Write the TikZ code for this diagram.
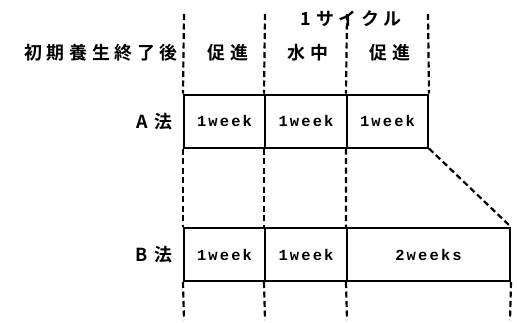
\documentclass[tikz,border=0pt]{standalone}
\usepackage{fontspec}
\newfontfamily\jp[LetterSpace=26,BoldFont={Noto Sans CJK JP Bold}]{Noto Sans CJK JP}
\newfontfamily\wk[LetterSpace=14]{Liberation Mono}
\begin{document}
\begin{tikzpicture}[x=1bp,y=-1bp,
  cell/.style={draw,line width=2bp,minimum height=53bp,inner sep=0pt,font=\wk\bfseries\fontsize{15.5}{15.5}\selectfont},
  dsh/.style={line width=2.2bp,dash pattern=on 6bp off 3.5bp},
  lab/.style={inner sep=0pt,font=\jp\bfseries\fontsize{18}{18}\selectfont}]
\useasboundingbox (0,0) rectangle (517,322);
% A row
\node[cell,minimum width=81bp] (a1) at (224.5,121) {1week};
\node[cell,minimum width=82bp] (a2) at (306,121) {1week};
\node[cell,minimum width=81bp] (a3) at (387.5,121) {1week};
% B row
\node[cell,minimum width=81bp] (b1) at (224.5,254.5) {1week};
\node[cell,minimum width=82bp] (b2) at (306,254.5) {1week};
\node[cell,minimum width=163bp] (b3) at (428.5,254.5) {2weeks};
% top coordinates
\coordinate (t1) at (184,14);
\coordinate (t2) at (265,14);
\coordinate (t3) at (347,14);
\coordinate (t4) at (428,14);
\coordinate (e1) at (184,320);
\coordinate (e2) at (265,320);
\coordinate (e3) at (347,320);
\coordinate (e4) at (510,320);
\draw[dsh] (t1) -- (a1.north west);
\draw[dsh] (t2) -- (a2.north west);
\draw[dsh] (t3) -- (a3.north west);
\draw[dsh] (t4) -- (a3.north east);
\draw[dsh] (a1.south west) -- (b1.north west);
\draw[dsh] (a2.south west) -- (b2.north west);
\draw[dsh] (a3.south west) -- (b3.north west);
\draw[dsh] (a3.south east) -- (b3.north east);
\draw[dsh] (b1.south west) -- (e1);
\draw[dsh] (b2.south west) -- (e2);
\draw[dsh] (b3.south west) -- (e3);
\draw[dsh] (b3.south east) -- (e4);
% labels
\node[lab] (cyc) at (351,19) {1サイクル};
\node[lab,anchor=east] (init) at (178,53) {初期養生終了後};
\node[lab] (p1) at (228,53) {促進};
\node[lab] (w1) at (308,53) {水中};
\node[lab] (p2) at (390,53) {促進};
\node[lab,anchor=east] (al) at (173,122) {A\hspace{7bp}法};
\node[lab,anchor=east] (bl) at (173,255) {B\hspace{7bp}法};
\end{tikzpicture}
\end{document}
